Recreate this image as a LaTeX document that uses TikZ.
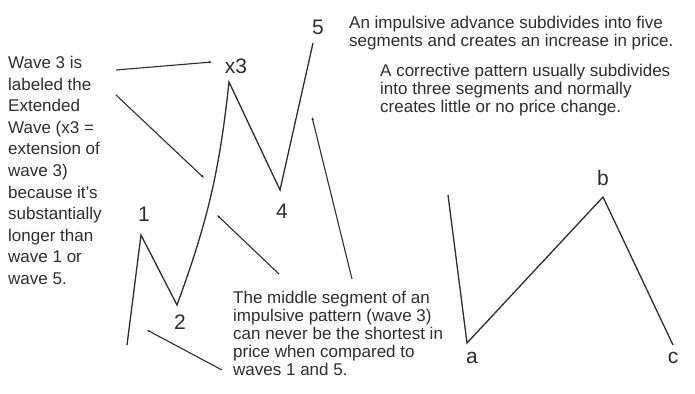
\documentclass[tikz,border=0pt]{standalone}
\usepackage{fontspec}
\setmainfont{Liberation Sans}
\usetikzlibrary{arrows.meta}
\definecolor{ink_colour}{RGB}{45, 45, 45}

\begin{document}
\begin{tikzpicture}[
    x=1pt, y=-1pt,
    every node/.style={text=ink_colour},
    note/.style={font=\fontsize{17}{18}\selectfont, align=left,
                 inner sep=0pt, anchor=north west},
    wlbl/.style={font=\fontsize{21}{21}\selectfont, inner sep=0pt},
    wave/.style={draw=ink_colour, line width=1.3pt},
    ptr/.style={-{Latex[length=3pt, width=2.6pt]}, draw=ink_colour, line width=1.1pt},
]
\useasboundingbox (0,0) rectangle (695,393);

% impulse: five waves
\coordinate (w0) at (127,345);
\coordinate (w1) at (141,235);
\coordinate (w2) at (177,305);
\coordinate (w3) at (229,82);
\coordinate (w4) at (280,190);
\coordinate (w5) at (313,43);
% correction: three waves
\coordinate (c0) at (448,195);
\coordinate (ca) at (467,343);
\coordinate (cb) at (603,197);
\coordinate (cc) at (673,345);

\draw[wave] (w0) -- (w1) -- (w2) to[bend right=7] (w3) -- (w4) -- (w5);
\draw[wave] (c0) -- (ca) -- (cb) -- (cc);

\node[wlbl] (l5)  at (318,27)  {5};
\node[wlbl] (lx3) at (236,66)  {x3};
\node[wlbl] (l1)  at (144,214) {1};
\node[wlbl] (l2)  at (180,322) {2};
\node[wlbl] (l4)  at (282,211) {4};
\node[wlbl] (la)  at (472,358) {a};
\node[wlbl] (lb)  at (603,178) {b};
\node[wlbl] (lc)  at (673,358) {c};

\node[note] (impnote) at (349,16)
    {An impulsive advance subdivides into five\\
     segments and creates an increase in price.};
\node[note] (cornote) at (380,64)
    {A corrective pattern usually subdivides\\
     into three segments and normally\\
     creates little or no price change.};
\node[note, font=\fontsize{17}{21.6}\selectfont] (extnote) at (8,56)
    {Wave 3 is\\ labeled the\\ Extended\\ Wave (x3 =\\ extension of\\ wave 3)\\
     because it's\\ substantially\\ longer than\\ wave 1 or\\ wave 5.};
\node[note] (midnote) at (233,291)
    {The middle segment of an\\ impulsive pattern (wave 3)\\
     can never be the shortest in\\ price when compared to\\ waves 1 and 5.};

% pointers
\coordinate (p1s) at (116,70);  \coordinate (p1e) at (212,62);
\coordinate (p2s) at (116,95);  \coordinate (p2e) at (204,178);
\coordinate (p3s) at (279,274); \coordinate (p3e) at (217,215);
\coordinate (p4s) at (222,370); \coordinate (p4e) at (147,330);
\coordinate (p5s) at (352,279); \coordinate (p5e) at (312,117);
\draw[ptr] (p1s) -- (p1e);
\draw[ptr] (p2s) -- (p2e);
\draw[ptr] (p3s) -- (p3e);
\draw[ptr] (p4s) -- (p4e);
\draw[ptr] (p5s) -- (p5e);
\end{tikzpicture}
\end{document}
